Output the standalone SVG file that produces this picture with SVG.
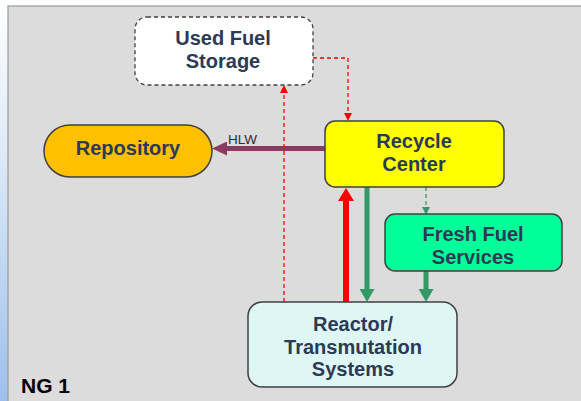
<svg xmlns="http://www.w3.org/2000/svg" width="581" height="401" viewBox="0 0 581 401">
<defs>
<linearGradient id="strip" x1="0" y1="0" x2="0" y2="1">
<stop offset="0" stop-color="#ffffff"/>
<stop offset="0.4" stop-color="#dce9f8"/>
<stop offset="1" stop-color="#9cc0ec"/>
</linearGradient>
<marker id="mPurple" markerUnits="userSpaceOnUse" viewBox="0 0 15 14" markerWidth="15" markerHeight="14" refX="0" refY="7" orient="auto"><path d="M0,0 L15,7 L0,14 z" fill="#8b3a62"/></marker>
<marker id="mRed" markerUnits="userSpaceOnUse" viewBox="0 0 13 16" markerWidth="13" markerHeight="16" refX="0" refY="8" orient="auto"><path d="M0,0 L13,8 L0,16 z" fill="#ff0000"/></marker>
<marker id="mGreen" markerUnits="userSpaceOnUse" viewBox="0 0 13 15" markerWidth="13" markerHeight="15" refX="0" refY="7.5" orient="auto"><path d="M0,0 L13,7.5 L0,15 z" fill="#339966"/></marker>
<marker id="mRedS" markerUnits="userSpaceOnUse" viewBox="0 0 8 8" markerWidth="8" markerHeight="8" refX="0" refY="4" orient="auto"><path d="M0,0 L8,4 L0,8 z" fill="#ff0000"/></marker>
<marker id="mGreenS" markerUnits="userSpaceOnUse" viewBox="0 0 8 8" markerWidth="8" markerHeight="8" refX="0" refY="4" orient="auto"><path d="M0,0 L8,4 L0,8 z" fill="#339966"/></marker>
</defs>
<style>
.lbl{font-family:"Liberation Sans",Arial,sans-serif;font-weight:bold;font-size:20px;fill:#2b3a55;text-anchor:middle}
.box{stroke:#404040;stroke-width:1.5}
.thin{fill:none;stroke-width:1.3;stroke-dasharray:4,3}
</style>
<rect x="0" y="0" width="581" height="401" fill="#ffffff"/>
<rect x="0" y="0" width="8" height="401" fill="url(#strip)"/>
<rect x="8" y="6" width="580" height="400" fill="#dcdcdc" stroke="#9a9a9a" stroke-width="1.2"/>

<g id="connectors">
<line x1="325" y1="148.5" x2="227" y2="148.5" stroke="#8b3a62" stroke-width="5" marker-end="url(#mPurple)"/>
<text x="228" y="144" font-family="'Liberation Sans',Arial,sans-serif" font-size="13.5" fill="#2b2b3b">HLW</text>
<line x1="284" y1="302" x2="284" y2="93" class="thin" stroke="#ff0000" marker-end="url(#mRedS)"/>
<path d="M313,58 H348 V113" class="thin" stroke="#ff0000" marker-end="url(#mRedS)"/>
<line x1="346" y1="302" x2="346" y2="201" stroke="#ff0000" stroke-width="6" marker-end="url(#mRed)"/>
<line x1="367" y1="187" x2="367" y2="289" stroke="#339966" stroke-width="5" marker-end="url(#mGreen)"/>
<line x1="426" y1="187" x2="426" y2="207" class="thin" stroke="#339966" marker-end="url(#mGreenS)"/>
<line x1="426" y1="271" x2="426" y2="289" stroke="#339966" stroke-width="5" marker-end="url(#mGreen)"/>
</g>

<g id="used-fuel-storage">
<rect x="135" y="17" width="178" height="68" rx="12" fill="#ffffff" stroke="#404040" stroke-width="1.3" stroke-dasharray="4,3"/>
<text class="lbl" x="223" y="45">Used Fuel</text>
<text class="lbl" x="223" y="67.5">Storage</text>
</g>

<g id="repository">
<rect class="box" x="44" y="125" width="168" height="52" rx="26" fill="#ffc000"/>
<text class="lbl" x="128" y="155">Repository</text>
</g>

<g id="recycle-center">
<rect class="box" x="325" y="121" width="179" height="66" rx="10" fill="#ffff00"/>
<text class="lbl" x="414" y="148">Recycle</text>
<text class="lbl" x="414" y="170.5">Center</text>
</g>

<g id="fresh-fuel-services">
<rect class="box" x="385" y="214" width="177" height="57" rx="10" fill="#00ff99"/>
<text class="lbl" x="473" y="241">Fresh Fuel</text>
<text class="lbl" x="473" y="263.5">Services</text>
</g>

<g id="reactor">
<rect class="box" x="248" y="302" width="209" height="85" rx="14" fill="#dff7f4"/>
<text class="lbl" x="353" y="330.5">Reactor/</text>
<text class="lbl" x="353" y="353.5">Transmutation</text>
<text class="lbl" x="353" y="376">Systems</text>
</g>

<text x="21" y="393" font-family="'Liberation Sans',Arial,sans-serif" font-weight="bold" font-size="21" fill="#000000">NG 1</text>
</svg>
